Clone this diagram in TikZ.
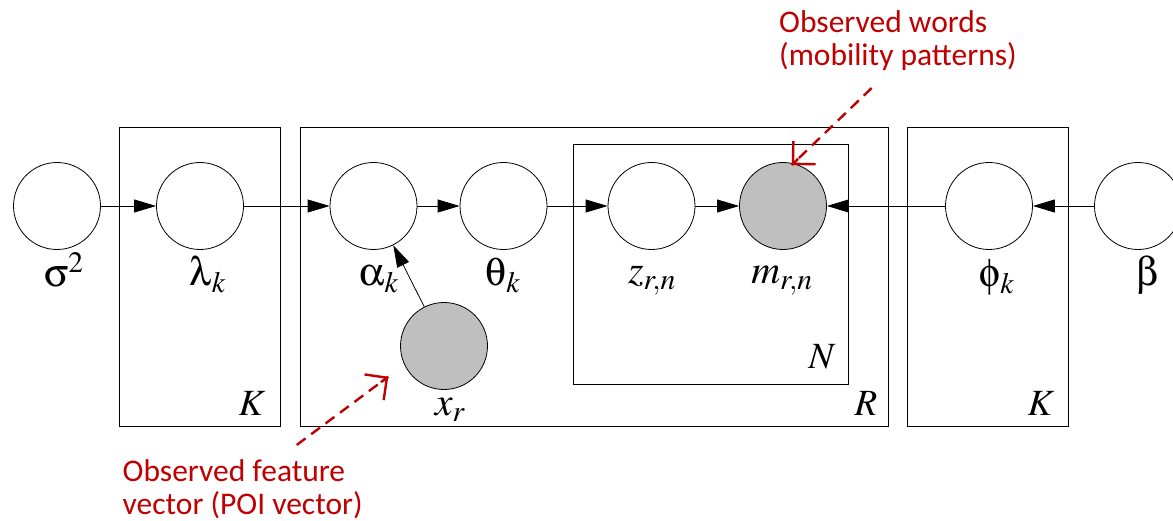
\documentclass[tikz,border=0pt]{standalone}
\usepackage{mathptmx}
\usepackage[Symbol]{upgreek}
\usepackage{fontspec}
\newfontfamily\annfont{Carlito}
\usetikzlibrary{arrows.meta,calc}
\definecolor{annred}{RGB}{192,0,0}
\definecolor{obsgray}{RGB}{191,191,191}
\newcommand\lb[1]{{\fontsize{40}{40}\selectfont$#1$}}
\newcommand\pl[1]{{\fontsize{37}{37}\selectfont$#1$}}
\begin{document}
\begin{tikzpicture}[x=1pt,y=-1pt,
  var/.style={circle,draw,line width=0.8pt,minimum size=87pt,inner sep=0pt,fill=white},
  obs/.style={var,fill=obsgray},
  plate/.style={draw,line width=0.9pt},
  lab/.style={anchor=base,inner sep=0pt},
  edge/.style={line width=0.8pt,-{Triangle[length=22pt,width=13pt]}},
  annline/.style={annred,line width=2.4pt,dash pattern=on 11pt off 7pt},
  annhead/.style={annred,line width=2.4pt,-{Straight Barb[length=16pt,width=32pt]}},
  anntext/.style={anchor=base west,inner sep=0pt,text=annred,font=\annfont\fontsize{31.5}{34}\selectfont}]
\useasboundingbox (0,0) rectangle (1173,521);
% plates
\draw[plate] (119.5,127.5) rectangle (280.5,426.5);
\draw[plate] (300,127.5) rectangle (888,426.5);
\draw[plate] (573,144) rectangle (848.5,384.5);
\draw[plate] (907.5,127.5) rectangle (1068.5,426.5);
\node[lab] (Kl) at (252,415) {\pl{K}};
\node[lab] (Nl) at (822,368) {\pl{N}};
\node[lab] (Rl) at (866,415) {\pl{R}};
\node[lab] (Kr) at (1041,415) {\pl{K}};
% variables
\node[var] (sigma) at (57,206) {};
\node[var] (lambda) at (200,206) {};
\node[var] (alpha) at (373.5,206) {};
\node[var] (theta) at (503.5,206) {};
\node[obs] (x) at (444,346) {};
\node[var] (z) at (651.5,206) {};
\node[obs] (m) at (783,206) {};
\node[var] (phi) at (989,206) {};
\node[var] (beta) at (1138,206) {};
% labels
\node[lab] (lsigma) at (64,287) {\lb{\upsigma^{2}}};
\node[lab] (llambda) at (208,286) {\lb{\uplambda_{k}}};
\node[lab] (lalpha) at (379,286) {\lb{\upalpha_{k}}};
\node[lab] (ltheta) at (503,286) {\lb{\uptheta_{k}}};
\node[lab] (lz) at (652,284) {\lb{z_{r,n}}};
\node[lab] (lm) at (782,284) {\lb{m_{r,n}}};
\node[lab] (lphi) at (997,287) {\lb{\upphi_{k}}};
\node[lab] (lbeta) at (1147,286) {\lb{\upbeta}};
\node[lab] (lx) at (450,415) {\lb{x_{r}}};
% edges
\draw[edge] (sigma) -- (lambda);
\draw[edge] (lambda) -- (alpha);
\draw[edge] (alpha) -- (theta);
\draw[edge] (theta) -- (z);
\draw[edge] (z) -- (m);
\draw[edge] (phi) -- (m);
\draw[edge] (beta) -- (phi);
\draw[edge] (x) -- (alpha);
% annotations
\node[anntext] (a1l1) at (779,33) {Observed words};
\node[anntext] (a1l2) at (779,66) {(mobility patterns)};
\node[anntext] (a2l1) at (122.5,481) {Observed feature};
\node[anntext] (a2l2) at (122.5,514) {vector (POI vector)};
\coordinate (a1s) at (871.7,88);
\coordinate (a1t) at (791.7,165);
\coordinate (a2s) at (296.7,445);
\coordinate (a2t) at (388.3,376.7);
\draw[annline] (a1s) -- (a1t);
\draw[annhead] ($(a1t)!0.08!(a1s)$) -- (a1t);
\draw[annline] (a2s) -- (a2t);
\draw[annhead] ($(a2t)!0.08!(a2s)$) -- (a2t);
\end{tikzpicture}
\end{document}
